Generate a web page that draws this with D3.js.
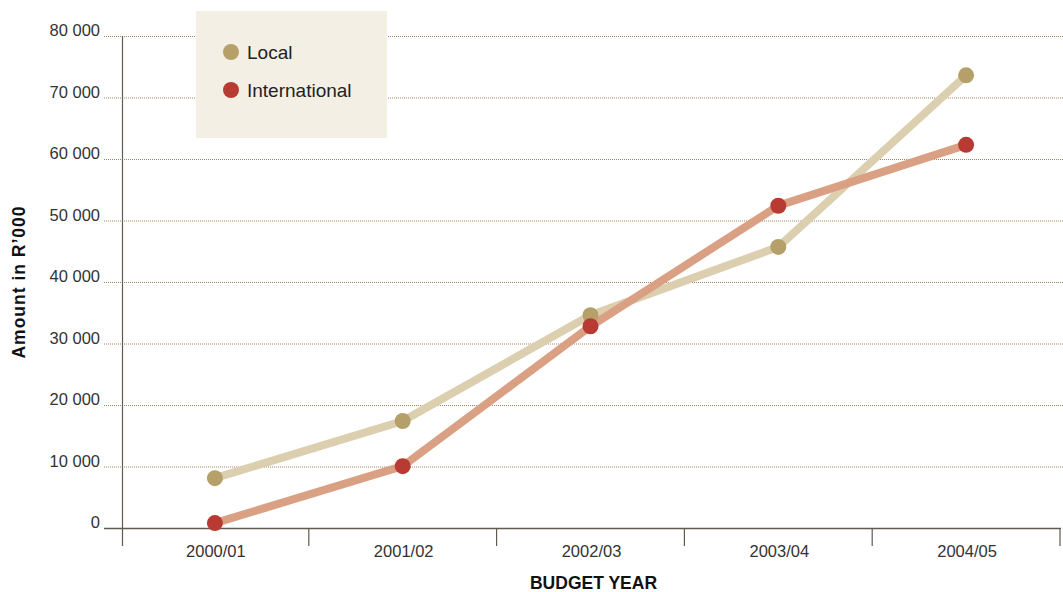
<!DOCTYPE html>
<html>
<head>
<meta charset="utf-8">
<script src="https://cdn.jsdelivr.net/npm/d3@7"></script>
<style>
  body { margin: 0; background: #fff; }
  svg { display: block; }
</style>
</head>
<body>
<svg id="chart"></svg>
<script>
// Chart data
const years = ["2000/01", "2001/02", "2002/03", "2003/04", "2004/05"];
const localValues = [8100, 17400, 34600, 45700, 73600];
const internationalValues = [800, 10050, 32800, 52400, 62300];
const yTicks = [0, 10000, 20000, 30000, 40000, 50000, 60000, 70000, 80000];
const seriesNames = ["Local", "International"];

const width = 1063;
const height = 592;

const margin = { top: 36, right: 2, bottom: 64, left: 122 };
const innerWidth = width - margin.left - margin.right;
const innerHeight = height - margin.top - margin.bottom;

const svg = d3.select("#chart").attr("width", width).attr("height", height);

const g = svg.append("g")
	.attr("transform", `translate(${margin.left}, ${margin.top})`);

const xScale = d3.scaleBand().domain(years).range([0, innerWidth]);
const yScale = d3.scaleLinear().domain([0, 80000]).range([innerHeight, 0]);

const fmt = (v) => v === 0 ? "0" : d3.format(",")(v).replace(/,/g, " ");

// gridlines (dotted)
g.selectAll(".grid")
	.data(yTicks.filter((t) => t > 0))
	.join("line")
	.attr("x1", -18)
	.attr("x2", innerWidth + 2)
	.attr("y1", (d) => yScale(d) + 0.5)
	.attr("y2", (d) => yScale(d) + 0.5)
	.attr("stroke", "#9a8660")
	.attr("stroke-width", 1)
	.attr("stroke-dasharray", "1,1");

// y tick labels
g.selectAll(".ylab")
	.data(yTicks)
	.join("text")
	.attr("x", -22)
	.attr("y", (d) => yScale(d))
	.attr("text-anchor", "end")
	.attr("font-family", "Liberation Sans, Arial, sans-serif")
	.attr("font-size", 16.5)
	.attr("fill", "#333")
	.text(fmt);

// axes lines
const axisColor = "#5f5a52";
g.append("line")
	.attr("x1", -18).attr("x2", innerWidth)
	.attr("y1", innerHeight + 0.5).attr("y2", innerHeight + 0.5)
	.attr("stroke", axisColor).attr("stroke-width", 1.5);
g.append("line")
	.attr("x1", 0.5).attr("x2", 0.5)
	.attr("y1", 0).attr("y2", innerHeight + 18)
	.attr("stroke", axisColor).attr("stroke-width", 1.2);

// band boundary ticks
const bounds = years.map((y) => xScale(y)).concat([innerWidth]);
g.selectAll(".xtick")
	.data(bounds.slice(1))
	.join("line")
	.attr("x1", (d) => d - 1)
	.attr("x2", (d) => d - 1)
	.attr("y1", innerHeight)
	.attr("y2", innerHeight + 18)
	.attr("stroke", axisColor)
	.attr("stroke-width", 1.2);

// x labels
g.selectAll(".xlab")
	.data(years)
	.join("text")
	.attr("x", (d) => xScale(d) + xScale.bandwidth() / 2)
	.attr("y", innerHeight + 29)
	.attr("text-anchor", "middle")
	.attr("font-family", "Liberation Sans, Arial, sans-serif")
	.attr("font-size", 16.5)
	.attr("fill", "#333")
	.text((d) => d);

// axis titles
svg.append("text")
	.attr("x", margin.left + innerWidth / 2 + 2)
	.attr("y", 589)
	.attr("text-anchor", "middle")
	.attr("font-family", "Liberation Sans, Arial, sans-serif")
	.attr("font-weight", "bold")
	.attr("font-size", 17.5)
	.attr("fill", "#111")
	.text("BUDGET YEAR");

svg.append("text")
	.attr("transform", `translate(25, 282) rotate(-90)`)
	.attr("text-anchor", "middle")
	.attr("font-family", "Liberation Sans, Arial, sans-serif")
	.attr("font-weight", "bold")
	.attr("font-size", 17.5)
	.attr("letter-spacing", 1)
	.attr("fill", "#111")
	.text("Amount in R\u2019000");

// legend box (drawn over gridlines)
svg.append("rect")
	.attr("x", 196).attr("y", 11)
	.attr("width", 191).attr("height", 127)
	.attr("fill", "#f3efe4");

const series = [
	{ name: seriesNames[0], values: localValues, line: "#dccfb0", dot: "#b5a06a" },
	{ name: seriesNames[1], values: internationalValues, line: "#daa083", dot: "#b73a33" },
];

const legend = svg.selectAll(".leg")
	.data(series)
	.join("g")
	.attr("transform", (d, i) => `translate(231, ${52 + i * 38})`);
legend.append("circle").attr("r", 8).attr("fill", (d) => d.dot);
legend.append("text")
	.attr("x", 16)
	.attr("dy", "0.35em")
	.attr("font-family", "Liberation Sans, Arial, sans-serif")
	.attr("font-size", 19)
	.attr("fill", "#222")
	.text((d) => d.name);

// lines
const line = d3.line()
	.x((d, i) => xScale(years[i]) + xScale.bandwidth() / 2 - 1)
	.y((d) => yScale(d));

series.forEach((s) => {
	g.append("path")
		.datum(s.values)
		.attr("d", line)
		.attr("fill", "none")
		.attr("stroke", s.line)
		.attr("stroke-width", 8);
});

series.forEach((s) => {
	g.selectAll(null)
		.data(s.values)
		.join("circle")
		.attr("cx", (d, i) => xScale(years[i]) + xScale.bandwidth() / 2 - 1)
		.attr("cy", (d) => yScale(d))
		.attr("r", 8)
		.attr("fill", s.dot);
});
</script>
</body>
</html>
